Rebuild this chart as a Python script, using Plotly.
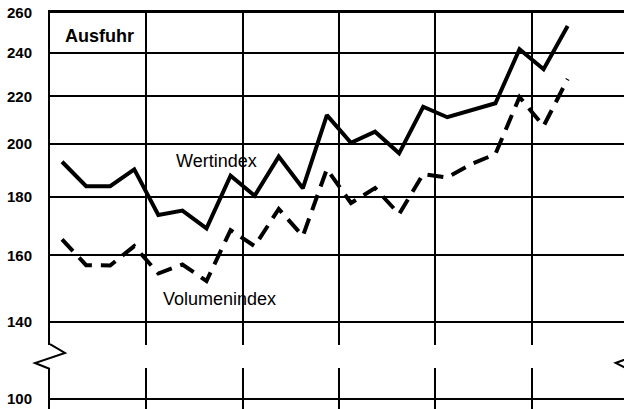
import plotly.graph_objects as go

# Quarterly index values (log scale chart)
quarters = [i + 0.5 for i in range(22)]
wertindex = [193.0, 183.8, 183.8, 190.1, 173.5, 175.0, 168.9, 187.7, 180.3, 195.0, 183.0,
             211.9, 200.5, 205.0, 196.3, 215.5, 211.0, 214.1, 217.0, 241.8, 232.3, 253.3]
volumenindex = [165.2, 156.9, 156.8, 163.0, 154.3, 157.1, 152.0, 168.3, 163.0, 175.6, 166.3,
                190.2, 177.7, 183.1, 173.8, 188.3, 187.0, 192.1, 196.0, 219.7, 207.3, 227.8]

tick_vals = [120, 140, 160, 180, 200, 220, 240, 260]
tick_text = ["100", "140", "160", "180", "200", "220", "240", "260"]

fig = go.Figure()
fig.add_trace(go.Scatter(x=quarters, y=wertindex, mode="lines", name="Wertindex",
                         line=dict(color="black", width=4), showlegend=False, hoverinfo="skip"))
fig.add_trace(go.Scatter(x=quarters, y=volumenindex, mode="lines", name="Volumenindex",
                         line=dict(color="black", width=4, dash="16px,9px"), showlegend=False,
                         hoverinfo="skip"))

font_family = "Liberation Sans, Arial, sans-serif"

fig.update_layout(
    width=624, height=409,
    margin=dict(l=50, r=0, t=13, b=0, pad=0),
    paper_bgcolor="white", plot_bgcolor="white",
    font=dict(family=font_family, color="black"),
    xaxis=dict(range=[0, 23.84], tick0=0, dtick=4, showgrid=True, gridcolor="black",
               gridwidth=2, showticklabels=False, ticks="", zeroline=False, automargin=False,
               side="top", showline=True, linecolor="black", linewidth=2.5),
    yaxis=dict(type="log", range=[2.0705, 2.41497], tickvals=tick_vals, ticktext=tick_text,
               showgrid=True, gridcolor="black", gridwidth=2, ticks="", automargin=False,
               tickfont=dict(size=15, family=font_family, color="black", weight="bold"),
               ticklabelstandoff=13, zeroline=False,
               showline=True, linecolor="black", linewidth=2),
)

# axis break: white gap across the grid, zigzag marks
fig.add_shape(type="rect", xref="paper", yref="paper", x0=-0.005, x1=1.01,
              y0=0.1035, y1=0.1616, fillcolor="white", line=dict(width=0), layer="above")
fig.add_shape(type="path", xref="paper", yref="paper",
              path="M 0 0.1640 L 0.0261 0.1414 L -0.0261 0.1162 L 0 0.1010",
              line=dict(color="black", width=2), layer="above")
fig.add_shape(type="path", xref="paper", yref="paper",
              path="M 1.007 0.1640 L 1.033 0.1414 L 0.9855 0.1162 L 1.007 0.1010",
              line=dict(color="black", width=2), layer="above")

ann = dict(xref="paper", yref="paper", showarrow=False, xanchor="center", yanchor="middle")
fig.add_annotation(text="<b>Ausfuhr</b>", x=(99.5 - 50) / 574, y=(409 - 36) / 396,
                   font=dict(size=18, family=font_family, color="black"), **ann)
fig.add_annotation(text="Wertindex", x=(216 - 50) / 574, y=(409 - 161) / 396,
                   font=dict(size=18, family=font_family, color="black"), **ann)
fig.add_annotation(text="Volumenindex", x=(219.7 - 50) / 574, y=(409 - 299) / 396,
                   font=dict(size=18, family=font_family, color="black"), **ann)

fig.write_html("out.html", config={"displayModeBar": False},
               post_script="document.body.style.margin='0';document.body.style.overflow='hidden';")
